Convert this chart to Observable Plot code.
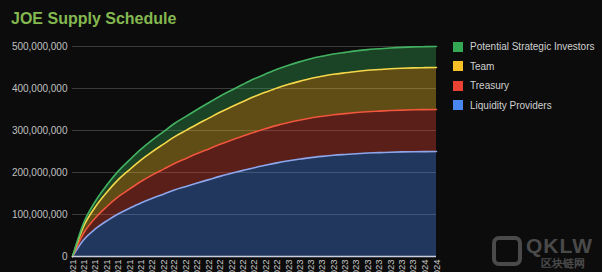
<!DOCTYPE html>
<html>
<head>
<meta charset="utf-8">
<script src="https://cdn.jsdelivr.net/npm/d3@7"></script>
<script src="https://cdn.jsdelivr.net/npm/@observablehq/plot@0.6"></script>
<style>
  html, body { margin: 0; padding: 0; background: #0c0c0c; }
  #wrap { position: relative; width: 602px; height: 272px; overflow: hidden; background: #0c0c0c; font-family: "Liberation Sans", Arial, sans-serif; }
  #title { position: absolute; left: 11px; top: 10px; font-size: 16px; font-weight: bold; color: #84b850; }
  #legend { position: absolute; left: 453px; top: 37px; }
  .row { display: flex; align-items: center; height: 19.5px; font-size: 10px; color: #d0d0d0; }
  .sw { width: 10px; height: 10px; margin-right: 7px; }
  #wm-icon { position: absolute; left: 492px; top: 236px; width: 22px; height: 22px; border: 4px solid #4a4a4a; border-radius: 7px; }
  #wm-a { position: absolute; left: 526px; top: 234px; color: #4a4a4a; font-weight: bold; font-size: 21px; letter-spacing: 1px; }
  #wm-b { position: absolute; left: 541px; top: 256px; color: #4a4a4a; font-weight: bold; font-size: 11px; }
</style>
</head>
<body>
<div id="wrap">
  <div id="chart"></div>
  <div id="title">JOE Supply Schedule</div>
  <div id="legend"></div>
  <div id="wm-icon"></div>
  <div id="wm-a">QKLW</div>
  <div id="wm-b">区块链网</div>
</div>
<script>
// Month labels (x axis)
const months = ["Jun 2021","Jul 2021","Aug 2021","Sep 2021","Oct 2021","Nov 2021","Dec 2021",
  "Jan 2022","Feb 2022","Mar 2022","Apr 2022","May 2022","Jun 2022","Jul 2022","Aug 2022","Sep 2022","Oct 2022","Nov 2022","Dec 2022",
  "Jan 2023","Feb 2023","Mar 2023","Apr 2023","May 2023","Jun 2023","Jul 2023","Aug 2023","Sep 2023","Oct 2023","Nov 2023","Dec 2023",
  "Jan 2024","Feb 2024"];
// Series names (bottom to top)
const seriesNames = ["Liquidity Providers", "Treasury", "Team", "Potential Strategic Investors"];
const seriesColors = ["#4a86f0", "#ea4335", "#f6c026", "#34a853"];
const lineColors = ["#8fa6ea", "#f0583c", "#f2d84a", "#42b060"];
// Cumulative supply per series, in millions of JOE
const liquidityProviders = [0,40.0,65.5,85.0,101.3,115.0,127.5,138.8,149.0,158.3,166.8,175.0,183.0,190.8,198.0,205.0,211.5,217.5,223.0,227.8,232.0,235.5,238.5,241.0,243.0,244.8,246.3,247.3,248.3,249.0,249.5,249.8,250];
const treasury = [0,16.0,26.2,34.0,40.5,46.0,51.0,55.5,59.6,63.3,66.7,70.0,73.2,76.3,79.2,82.0,84.6,87.0,89.2,91.1,92.8,94.2,95.4,96.4,97.2,97.9,98.5,98.9,99.3,99.6,99.8,99.9,100];
const team = [0,16.0,26.2,34.0,40.5,46.0,51.0,55.5,59.6,63.3,66.7,70.0,73.2,76.3,79.2,82.0,84.6,87.0,89.2,91.1,92.8,94.2,95.4,96.4,97.2,97.9,98.5,98.9,99.3,99.6,99.8,99.9,100];
const investors = [0,8.0,13.1,17.0,20.3,23.0,25.5,27.8,29.8,31.7,33.4,35.0,36.6,38.2,39.6,41.0,42.3,43.5,44.6,45.6,46.4,47.1,47.7,48.2,48.6,49.0,49.3,49.5,49.7,49.8,49.9,50.0,50];
const yTicks = [0, 100, 200, 300, 400, 500];

const seriesValues = [liquidityProviders, treasury, team, investors];
const parseMonth = d3.utcParse("%b %Y");
const data = [];
seriesNames.forEach((s, k) => {
  months.forEach((m, i) => data.push({date: parseMonth(m), series: s, value: seriesValues[k][i]}));
});
const tickDates = months.map(parseMonth);

const chart = Plot.plot({
  width: 602,
  height: 272,
  marginTop: 46,
  marginBottom: 16,
  marginLeft: 72,
  marginRight: 166,
  style: {background: "transparent", color: "#c8c8c8", fontFamily: "Liberation Sans, Arial, sans-serif", fontSize: "10px", overflow: "visible"},
  x: {type: "utc", domain: [tickDates[0], tickDates[tickDates.length - 1]], label: null},
  y: {domain: [0, 500], label: null},
  color: {domain: seriesNames, range: seriesColors},
  marks: [
    Plot.ruleY(yTicks, {stroke: "#3c3c3c", strokeWidth: 1}),
    Plot.areaY(data, Plot.stackY({x: "date", y: "value", fill: "series", order: seriesNames, curve: "monotone-x", fillOpacity: 0.36})),
    Plot.lineY(data, Plot.stackY2({x: "date", y: "value", z: "series", stroke: d => lineColors[seriesNames.indexOf(d.series)], order: seriesNames, curve: "monotone-x", strokeWidth: 1.6})),
    Plot.ruleY([0], {stroke: "#c9cde0", strokeWidth: 1.5}),
    Plot.axisY({ticks: yTicks, tickSize: 0, tickPadding: 5, label: null, tickFormat: d => d3.format(",")(d * 1e6), fill: "#c0c0c0", fontSize: 10}),
    Plot.axisX({ticks: tickDates, tickSize: 0, tickPadding: 3, label: null, tickRotate: -90, tickFormat: d3.utcFormat("%b %Y"), fill: "#c8c8c8", fontSize: 9.5})
  ]
});
document.getElementById("chart").appendChild(chart);

const legend = document.getElementById("legend");
[3, 2, 1, 0].forEach(k => {
  const row = document.createElement("div");
  row.className = "row";
  row.innerHTML = `<div class="sw" style="background:${seriesColors[k]}"></div><span>${seriesNames[k]}</span>`;
  legend.appendChild(row);
});
</script>
</body>
</html>
